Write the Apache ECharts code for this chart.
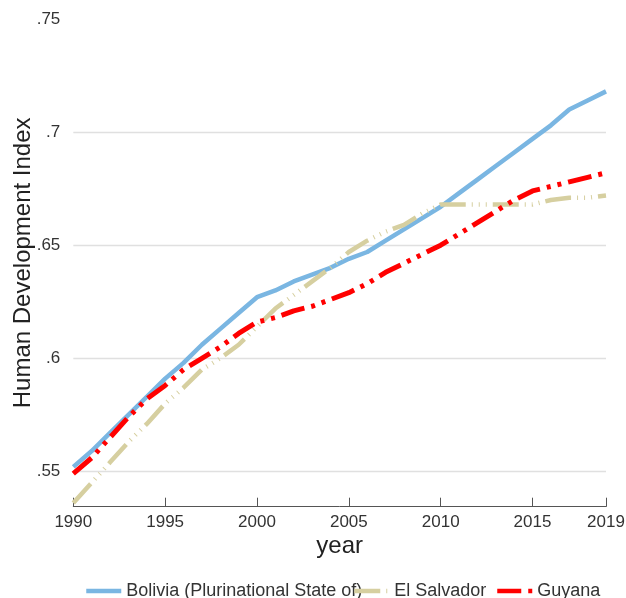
<!DOCTYPE html>
<html>
<head>
<meta charset="utf-8">
<script src="https://cdn.jsdelivr.net/npm/echarts@6/dist/echarts.min.js"></script>
<style>
html,body{margin:0;padding:0;background:#fff;}
#chart{width:626px;height:598px;}
</style>
</head>
<body>
<div id="chart"></div>
<script>
var years = [1990,1991,1992,1993,1994,1995,1996,1997,1998,1999,2000,2001,2002,2003,2004,2005,2006,2007,2008,2009,2010,2011,2012,2013,2014,2015,2016,2017,2018,2019];
var bolivia = [0.552,0.559,0.567,0.575,0.583,0.591,0.598,0.606,0.613,0.620,0.627,0.630,0.634,0.637,0.640,0.644,0.647,0.652,0.657,0.662,0.667,0.673,0.679,0.685,0.691,0.697,0.703,0.710,0.714,0.718];
var elSalvador = [0.536,0.545,0.554,0.563,0.571,0.580,0.587,0.595,0.600,0.606,0.614,0.622,0.628,0.634,0.640,0.647,0.652,0.656,0.659,0.664,0.668,0.668,0.668,0.668,0.668,0.668,0.670,0.671,0.671,0.672];
var guyana = [0.549,0.556,0.565,0.574,0.582,0.588,0.595,0.600,0.605,0.611,0.616,0.618,0.621,0.623,0.626,0.629,0.633,0.638,0.642,0.646,0.650,0.655,0.660,0.665,0.670,0.674,0.676,0.678,0.680,0.682];
var seriesNames = ['Bolivia (Plurinational State of)','El Salvador','Guyana'];
var xTicks = [1990,1995,2000,2005,2010,2015,2019];
var yTicks = [0.55,0.6,0.65,0.7,0.75];

function pairs(vals){ return years.map(function(y,i){ return [y, vals[i]]; }); }
var FONT = "Arial, 'Liberation Sans', sans-serif";
var chart = echarts.init(document.getElementById('chart'));
function leg(name, left){
  return {
    data:[name], left:left, top:582, orient:'horizontal',
    itemWidth:35, itemHeight:14, padding:0,
    itemStyle:{opacity:0},
    lineStyle:{width:4.5},
    textStyle:{fontFamily:FONT, fontSize:18, color:'#333'}
  };
}
chart.setOption({
  backgroundColor:'#fff',
  animation:false,
  grid:{left:73.3, right:20, top:19, bottom:91.3, containLabel:false, outerBoundsMode:'none'},
  legend:[leg(seriesNames[0],84), leg(seriesNames[1],352), leg(seriesNames[2],495)],
  xAxis:{
    type:'value', min:1990, max:2019,
    name:'year', nameLocation:'middle', nameGap:28, nameMoveOverlap:false,
    nameTextStyle:{fontFamily:FONT, fontSize:24, color:'#222'},
    axisLine:{show:true, lineStyle:{color:'#555', width:1}},
    axisTick:{show:true, inside:true, length:9, customValues:xTicks, lineStyle:{color:'#555'}},
    axisLabel:{customValues:xTicks, fontFamily:FONT, fontSize:17, color:'#333', margin:7,
      formatter:function(v){return String(v);}},
    splitLine:{show:false}
  },
  yAxis:{
    type:'value', min:0.5344, max:0.75,
    name:'Human Development Index', nameLocation:'middle', nameGap:38, nameRotate:90, nameMoveOverlap:false,
    nameTextStyle:{fontFamily:FONT, fontSize:24, color:'#222'},
    axisLine:{show:false},
    axisTick:{show:false, customValues:yTicks},
    axisLabel:{customValues:yTicks, fontFamily:FONT, fontSize:17, color:'#333', margin:13,
      formatter:function(v){ return String(+(+v).toFixed(2)).replace(/^0/,''); }},
    splitLine:{show:true, showMaxLine:false, lineStyle:{color:'#e0e0e0', width:1.3}}
  },
  series:[
    {name:seriesNames[0], type:'line', data:pairs(bolivia), symbol:'none', showSymbol:false,
      lineStyle:{color:'#7ab6e2', width:4.5, cap:'butt', join:'round'}, itemStyle:{color:'#7ab6e2'}},
    {name:seriesNames[1], type:'line', data:pairs(elSalvador), symbol:'none', showSymbol:false,
      lineStyle:{color:'#d6cfa0', width:4.5, type:[26,6,1,6,1,6,1,6], cap:'butt'}, itemStyle:{color:'#d6cfa0'}},
    {name:seriesNames[2], type:'line', data:pairs(guyana), symbol:'none', showSymbol:false,
      lineStyle:{color:'#ff0000', width:5, type:[24,7,4,7,4,7], cap:'butt'}, itemStyle:{color:'#ff0000'}}
  ]
});
</script>
</body>
</html>
